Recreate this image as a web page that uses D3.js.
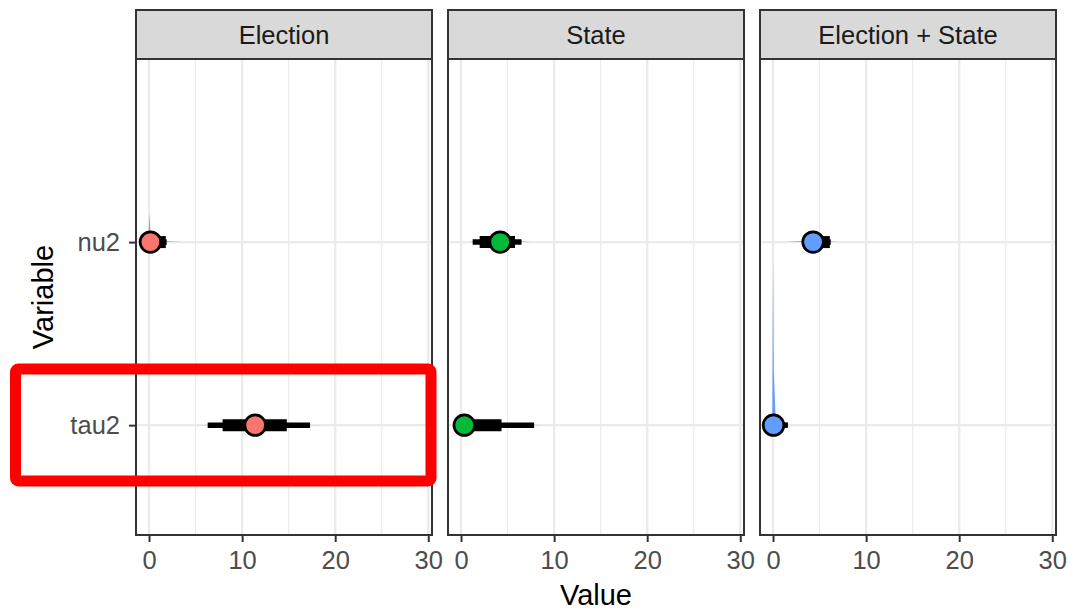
<!DOCTYPE html>
<html><head><meta charset="utf-8">
<script src="https://cdn.jsdelivr.net/npm/d3@7"></script>
<style>body{margin:0;background:#fff}svg{display:block}</style>
</head><body>
<svg id="c" width="1069" height="611"></svg>
<script>
// ---- data ----
const panels = ["Election", "State", "Election + State"];
const variables = ["nu2", "tau2"];
const colors = ["#F8766D", "#00BA38", "#619CFF"];
const xTicks = [0, 10, 20, 30];
const xMinor = [5, 15, 25];
// medians per panel, [nu2, tau2]
const medians = [[0.15, 11.4], [4.2, 0.35], [4.3, 0.05]];
// 66% intervals per panel, [nu2, tau2]
const thick = [[[0.0, 1.8], [7.9, 14.8]], [[2.0, 5.8], [0.0, 4.35]], [[3.6, 6.1], [0.0, 0.8]]];
// 95% intervals per panel, [nu2, tau2]
const thin = [[[0.0, 1.9], [6.3, 17.3]], [[1.25, 6.5], [0.0, 7.85]], [[3.4, 6.2], [0.0, 1.6]]];
// density outlines: [value, height in row units]
const densNu2 = [
  [[-0.1,0],[0.0,0.1],[0.05,0.16],[0.12,0.08],[0.3,0.01],[1.5,0.004],[3.5,0]],
  [[0.8,0],[2.5,0.005],[4,0.007],[5.5,0.005],[7.5,0]],
  [[1.5,0],[3,0.005],[4.3,0.007],[5.5,0.005],[7,0]]
];
const densTau2 = [
  [[5,0],[8,0.002],[11,0.003],[14,0.002],[19,0]],
  [[-0.1,0],[0,0.01],[2,0.004],[6,0.002],[9,0]],
  [[-0.08,0],[0.0,0.9],[0.08,0.3],[0.3,0.01],[1.5,0]]
];

// ---- layout ----
const svg = d3.select("#c");
const panelW = 296, gap = 16, left0 = 136;
const stripTop = 10, panelTop = 59, panelBot = 535;
const font = "'Liberation Sans', Arial, sans-serif";
const tickFont = 25.5;

const y = d3.scaleLinear().domain([0.4, 3.0]).range([panelBot, panelTop]);
const yPos = v => variables.indexOf(v) === 0 ? y(2) : y(1);

panels.forEach((p, i) => {
  const x0 = left0 + i * (panelW + gap);
  const x = d3.scaleLinear().domain([-1.4, 30.4]).range([x0, x0 + panelW]);
  const g = svg.append("g");
  g.append("rect").attr("x", x0).attr("y", panelTop).attr("width", panelW)
    .attr("height", panelBot - panelTop).attr("fill", "#fff");
  g.selectAll(".mn").data(xMinor).join("line")
    .attr("x1", d => x(d)).attr("x2", d => x(d)).attr("y1", panelTop).attr("y2", panelBot)
    .attr("stroke", "#EBEBEB").attr("stroke-width", 1.2);
  g.selectAll(".mj").data(xTicks).join("line")
    .attr("x1", d => x(d)).attr("x2", d => x(d)).attr("y1", panelTop).attr("y2", panelBot)
    .attr("stroke", "#EBEBEB").attr("stroke-width", 2.4);
  g.selectAll(".hy").data(variables).join("line")
    .attr("x1", x0).attr("x2", x0 + panelW).attr("y1", d => yPos(d)).attr("y2", d => yPos(d))
    .attr("stroke", "#EBEBEB").attr("stroke-width", 2.4);

  const dens = [densNu2[i], densTau2[i]];
  dens.forEach((d, k) => {
    const base = k === 0 ? 2 : 1;
    const area = d3.area().x(q => x(q[0])).y0(y(base)).y1(q => y(base + q[1]));
    g.append("path").datum(d).attr("d", area).attr("fill", colors[i]);
  });

  variables.forEach((v, k) => {
    const yy = yPos(v);
    g.append("line").attr("x1", x(thin[i][k][0])).attr("x2", x(thin[i][k][1]))
      .attr("y1", yy).attr("y2", yy).attr("stroke", "#000").attr("stroke-width", 5.5);
    g.append("line").attr("x1", x(thick[i][k][0])).attr("x2", x(thick[i][k][1]))
      .attr("y1", yy).attr("y2", yy).attr("stroke", "#000").attr("stroke-width", 12);
    g.append("circle").attr("cx", x(medians[i][k])).attr("cy", yy).attr("r", 10.3)
      .attr("fill", colors[i]).attr("stroke", "#000").attr("stroke-width", 2.7);
  });

  g.append("rect").attr("x", x0).attr("y", panelTop).attr("width", panelW)
    .attr("height", panelBot - panelTop).attr("fill", "none").attr("stroke", "#333").attr("stroke-width", 2);
  g.append("rect").attr("x", x0).attr("y", stripTop).attr("width", panelW)
    .attr("height", panelTop - stripTop).attr("fill", "#D9D9D9").attr("stroke", "#333").attr("stroke-width", 2);
  g.append("text").attr("x", x0 + panelW / 2).attr("y", 44).attr("text-anchor", "middle")
    .attr("font-family", font).attr("font-size", tickFont).attr("fill", "#1A1A1A").text(p);

  const ax = d3.axisBottom(x).tickValues(xTicks).tickSize(7).tickPadding(9).tickFormat(d3.format("d"));
  const axg = svg.append("g").attr("transform", `translate(0,${panelBot})`).call(ax);
  axg.select(".domain").remove();
  axg.selectAll(".tick line").attr("stroke", "#333").attr("stroke-width", 2);
  axg.selectAll(".tick text").attr("font-family", font).attr("font-size", tickFont).attr("fill", "#4D4D4D")
    .attr("dy", "0.71em");

  if (i === 0) {
    const yAx = d3.axisLeft(d3.scalePoint().domain(variables).range([yPos("nu2"), yPos("tau2")]))
      .tickSize(7).tickPadding(9);
    const ayg = svg.append("g").attr("transform", `translate(${x0},0)`).call(yAx);
    ayg.select(".domain").remove();
    ayg.selectAll(".tick line").attr("stroke", "#333").attr("stroke-width", 2);
    ayg.selectAll(".tick text").attr("font-family", font).attr("font-size", tickFont).attr("fill", "#4D4D4D");
  }
});

svg.append("text").attr("x", left0 + (3 * panelW + 2 * gap) / 2).attr("y", 605).attr("text-anchor", "middle")
  .attr("font-family", font).attr("font-size", 29).attr("fill", "#000").text("Value");
svg.append("text").attr("transform", `translate(53,${(panelTop + panelBot) / 2}) rotate(-90)`)
  .attr("text-anchor", "middle").attr("font-family", font).attr("font-size", 29).attr("fill", "#000").text("Variable");

svg.append("rect").attr("x", 15.5).attr("y", 369).attr("width", 415.5).attr("height", 112)
  .attr("rx", 3).attr("fill", "none").attr("stroke", "#FF0000").attr("stroke-width", 11);
</script>
</body></html>
